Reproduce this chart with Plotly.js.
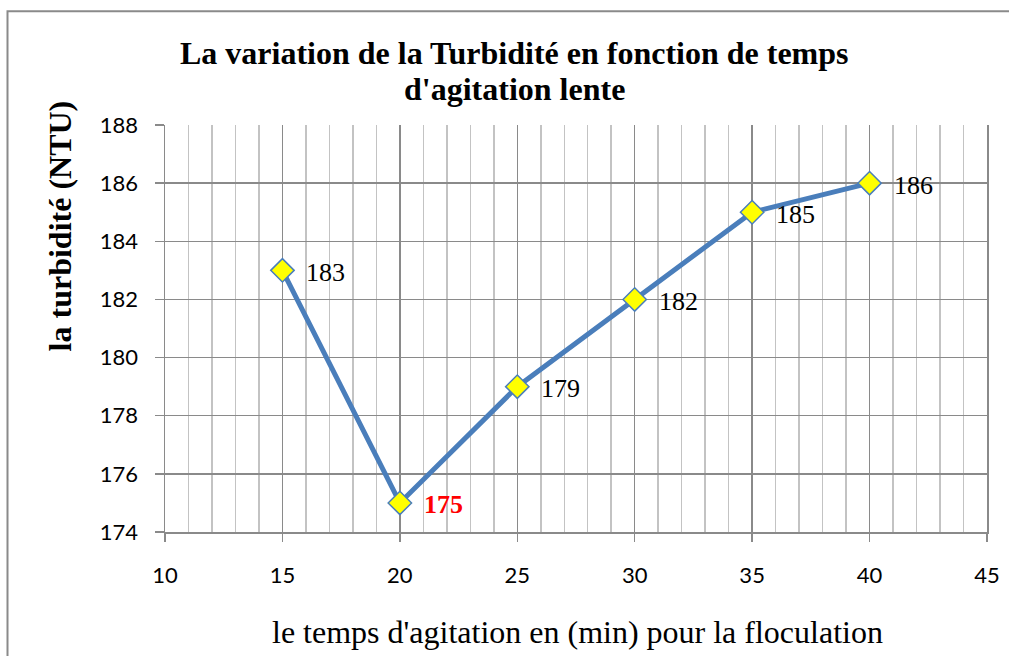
<!DOCTYPE html>
<html>
<head>
<meta charset="utf-8">
<script src="https://cdn.plot.ly/plotly-3.0.1.min.js"></script>
<style>html,body{margin:0;padding:0;background:#fff;}#chart{width:1009px;height:656px;}</style>
</head>
<body>
<div id="chart"></div>
<script>
const temps = [15, 20, 25, 30, 35, 40];
const turbidite = [183, 175, 179, 182, 185, 186];
const labelColors = ['#000000', '#ff0000', '#000000', '#000000', '#000000', '#000000'];
const labelBold = [false, true, false, false, false, false];
const xTicks = [10, 15, 20, 25, 30, 35, 40, 45];
const yTicks = [174, 176, 178, 180, 182, 184, 186, 188];
const titleLines = ['La variation de la Turbidité en fonction de temps', "d'agitation lente"];

const W = 1009, H = 656;
const mL = 165, mR = 22, mT = 124.5, mB = 124;
const pw = W - mL - mR, ph = H - mT - mB;
const px = v => (v - mL) / pw;
const py = v => (H - mB - v) / ph;
const serif = 'Liberation Serif, Times New Roman, serif';
const sans = 'Lato, Carlito, Calibri, sans-serif';

const trace = {
  x: temps, y: turbidite, type: 'scatter', mode: 'lines+markers',
  line: {color: '#4a7ebb', width: 5},
  marker: {symbol: 'diamond', size: 18, color: '#ffff00', line: {color: '#4a7ebb', width: 1.5}},
  hoverinfo: 'none', cliponaxis: false
};

const annotations = temps.map((t, i) => ({
  x: t, y: turbidite[i], xref: 'x', yref: 'y',
  text: labelBold[i] ? '<b>' + turbidite[i] + '</b>' : String(turbidite[i]),
  showarrow: false, xanchor: 'left', yanchor: 'middle', xshift: 22, yshift: -2,
  font: {family: serif, size: 26, color: labelColors[i]}
}));

const titleY = [52, 88];
titleLines.forEach((ln, i) => annotations.push({
  xref: 'paper', yref: 'paper', x: px(514), y: py(titleY[i]), xanchor: 'center', yanchor: 'middle',
  text: '<b>' + ln + '</b>', showarrow: false,
  font: {family: serif, size: 32, color: '#000'}
}));
annotations.push({
  xref: 'paper', yref: 'paper', x: px(60), y: py(225), xanchor: 'center', yanchor: 'middle',
  text: '<b>la turbidité (NTU)</b>', textangle: -90, showarrow: false,
  font: {family: serif, size: 32, color: '#000'}
});
annotations.push({
  xref: 'paper', yref: 'paper', x: px(577), y: py(632), xanchor: 'center', yanchor: 'middle',
  text: "le temps d'agitation en (min) pour la floculation", showarrow: false,
  font: {family: serif, size: 32, color: '#000'}
});

const layout = {
  width: W, height: H,
  margin: {l: mL, r: mR, t: mT, b: mB, pad: 0},
  paper_bgcolor: '#fff', plot_bgcolor: '#fff',
  showlegend: false,
  xaxis: {
    range: [10, 45], tickvals: xTicks, ticktext: xTicks.map(String),
    showgrid: true, gridcolor: '#8a8a8a', gridwidth: 1.5,
    minor: {dtick: 1, tick0: 10, showgrid: true, gridcolor: '#c3c3c3', gridwidth: 1.5, ticks: ''},
    showline: true, linecolor: '#8a8a8a', linewidth: 1.5, mirror: false,
    ticks: 'outside', ticklen: 8, tickcolor: '#8a8a8a', tickwidth: 1.5,
    ticklabelstandoff: 15,
    tickfont: {family: sans, size: 22, color: '#000'},
    zeroline: false, fixedrange: true
  },
  yaxis: {
    range: [174, 188], tickvals: yTicks, ticktext: yTicks.map(String),
    showgrid: true, gridcolor: '#8a8a8a', gridwidth: 1.5,
    showline: true, linecolor: '#8a8a8a', linewidth: 1.5, mirror: true,
    ticks: 'outside', ticklen: 9, tickcolor: '#8a8a8a', tickwidth: 1.5,
    ticklabelstandoff: 12,
    tickfont: {family: sans, size: 22, color: '#000'},
    zeroline: false, fixedrange: true
  },
  annotations: annotations,
  shapes: [{
    type: 'path', xref: 'paper', yref: 'paper',
    path: 'M ' + px(7.5) + ' ' + py(H + 5) + ' L ' + px(7.5) + ' ' + py(10.5) + ' L ' + px(W + 5) + ' ' + py(10.5),
    line: {color: '#8a8a8a', width: 2}
  }]
};

Plotly.newPlot('chart', [trace], layout, {displayModeBar: false, staticPlot: true});
</script>
</body>
</html>
